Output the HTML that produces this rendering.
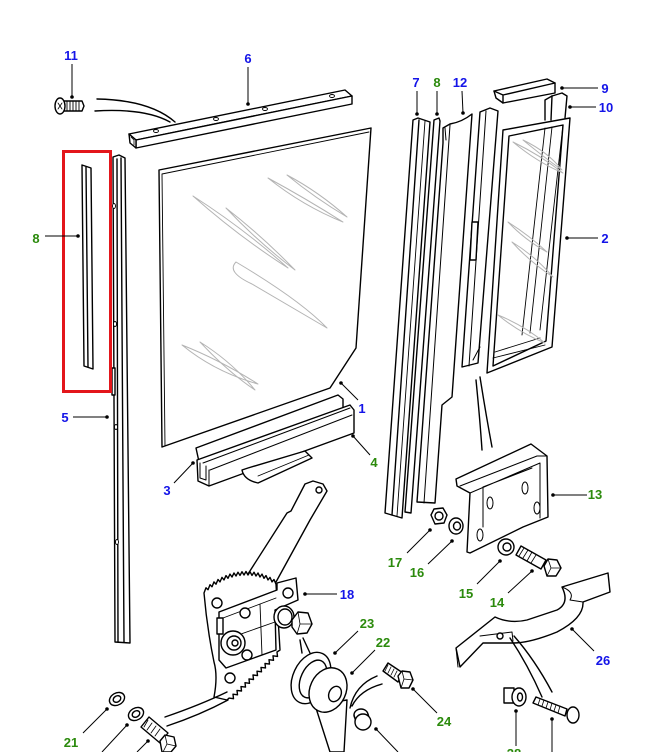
<!DOCTYPE html>
<html><head><meta charset="utf-8"><style>
html,body{margin:0;padding:0;background:#fff;}
svg{display:block;}
text{font-family:"Liberation Sans",Arial,sans-serif;font-weight:bold;font-size:13px;text-anchor:middle;}
.b{fill:#1414e8;} .g{fill:#2b8a0c;}
</style></head><body>
<svg width="663" height="752" viewBox="0 0 663 752" xmlns="http://www.w3.org/2000/svg">
<g fill="#fff" stroke="#000" stroke-width="1.4" stroke-linejoin="round" stroke-linecap="round">

<!-- Screw 11 -->
<polygon points="64,101 82,101 84,106 82,111 64,111"/>
<g fill="none" stroke-width="0.9"><line x1="67" y1="101" x2="67" y2="111"/><line x1="70" y1="101" x2="70" y2="111"/><line x1="73" y1="101" x2="73" y2="111"/><line x1="76" y1="101" x2="76" y2="111"/><line x1="79" y1="101" x2="79" y2="111"/></g>
<ellipse cx="60" cy="106" rx="5" ry="8"/>
<path d="M58,103 L62,109 M62,103 L58,109" fill="none" stroke-width="0.8"/>
<path d="M97,99 Q150,100 175,122 M95,111 Q145,108 170,122" fill="none"/>

<!-- Rail 6 -->
<polygon points="129,134 345,90 352,96 136,140"/>
<polygon points="136,140 352,96 352,104 136,148"/>
<polygon points="129,134 136,140 136,148 130,143"/>
<path d="M131,137 L134,140 L134,145" fill="none" stroke-width="0.8"/>
<g stroke-width="0.9"><ellipse cx="156" cy="131" rx="2.5" ry="1.5"/><ellipse cx="216" cy="119" rx="2.5" ry="1.5"/><ellipse cx="265" cy="109" rx="2.5" ry="1.5"/><ellipse cx="332" cy="96" rx="2.5" ry="1.5"/></g>

<!-- Channel 5 -->
<polygon points="113,157 119,155 125,158 130,643 115,642"/>
<line x1="117" y1="159" x2="118" y2="642" fill="none"/>
<line x1="121" y1="158" x2="124" y2="642" fill="none"/>
<rect x="112" y="368" width="3" height="27"/>
<g stroke-width="0.9"><ellipse cx="114" cy="206" rx="1.5" ry="2.5"/><ellipse cx="115" cy="324" rx="1.5" ry="2.5"/><ellipse cx="116" cy="427" rx="1.5" ry="2.5"/><ellipse cx="117" cy="542" rx="1.5" ry="2.5"/></g>

<!-- Part 8 strip in red box -->
<polygon points="82,165 91,168 93,369 84,366"/>
<line x1="86" y1="167" x2="88" y2="367" fill="none"/>

<!-- Glass 1 -->
<polygon points="159,170 371,128 356,348 330,388 162,447"/>
<path d="M162,174 L369,132 M162,174 L165,446" fill="none" stroke-width="0.9"/>
<g fill="none" stroke="#b4b4b4" stroke-width="1">
<path d="M193,196 Q238,236 288,268 Q243,228 193,196"/>
<path d="M226,208 Q258,242 295,270 Q262,236 226,208"/>
<path d="M268,178 Q303,206 343,222 Q305,198 268,178"/>
<path d="M287,175 Q315,198 347,217 Q319,192 287,175"/>
<path d="M236,262 Q226,272 252,284 L327,328 Q300,300 236,262"/>
<path d="M182,345 Q215,372 258,384 Q220,360 182,345"/>
<path d="M200,342 Q228,372 255,390 Q232,362 200,342"/>
</g>

<!-- Channel 3/4 -->
<polygon points="196,448 338,395 343,399 343,418 201,471"/>
<polygon points="197,460 350,405 354,410 354,433 209,486 198,481"/>
<path d="M203,463 L350,408 M210,470 L352,415 M209,486 L209,470 M200,463 L200,478 L206,480 L206,466" fill="none" stroke-width="1"/>

<!-- Lifter bracket -->
<path d="M248,468 L305,451 L312,458 L258,483 Q244,480 242,470 Z"/>
<line x1="258" y1="476" x2="309" y2="455" fill="none" stroke-width="0.9"/>

<!-- Regulator arm -->
<polygon points="305,484 313,481 323,484 327,491 310,520 276,582 248,574 287,513 291,511"/>
<circle cx="319" cy="490" r="3"/>

<!-- Sector gear plate -->
<path d="M204,593 L206,587.8 L208,589.7 L210,584.7 L212,586.8 L214,581.9 L216,584.2 L218,579.5 L220,581.9 L222,577.4 L224,579.9 L226,575.6 L228,578.3 L230,574.1 L232,577 L234,573 L236,576 L238,572.2 L240,575.4 L242,571.7 L244,575 L246,571.5 L248,575 L250,571.7 L252,575.4 L254,572.2 L256,576 L258,573 L260,577 L262,574.1 L264,578.3 L266,575.6 L268,579.9 L270,577.4 L272,581.9 L274,579.5 L276,584.2 L280,650 L277,652 L277.5,656.4 L273,655.8 L273.5,660.3 L269,659.7 L269.5,664.1 L265,663.5 L265.5,667.9 L261,667.4 L261.5,671.8 L257,671.2 L257.5,675.6 L253,675 L253.5,679.5 L249,678.9 L249.5,683.3 L245,682.7 L245.5,687.1 L241,686.6 L241.5,691 L237,690.4 L237.5,694.8 L233,694.2 L233.5,698.7 L229,698.1 L227,700 L214,697 Q218,676 214,662 Q207,628 204,593 Z"/>
<ellipse cx="217" cy="603" rx="5" ry="5"/>
<ellipse cx="230" cy="678" rx="5" ry="5"/>

<!-- Mounting plate 18 -->
<polygon points="219,612 277,590 277,583 296,578 298,600 275,610 276,650 226,668 219,660"/>
<path d="M223,618 L276,598 M224,640 L275,622 M260,604 L262,655" fill="none" stroke-width="0.9"/>
<rect x="217" y="618" width="6" height="16"/>
<circle cx="245" cy="613" r="5"/>
<circle cx="288" cy="593" r="5"/>
<circle cx="247" cy="655" r="5"/>
<circle cx="233" cy="643" r="12"/>
<circle cx="234" cy="643" r="7"/>
<circle cx="235" cy="643" r="3"/>
<ellipse cx="284" cy="617" rx="10" ry="11"/>
<ellipse cx="285" cy="617" rx="7" ry="8"/>
<polygon points="292,620 298,612 308,613 312,624 307,633 297,634 292,627"/>
<path d="M298,612 L300,624 L312,624 M300,624 L297,634" fill="none" stroke-width="0.8"/>
<path d="M300,640 L302,653 M303,638 L310,653" fill="none"/>

<!-- Washer 23 and handle 22 -->
<ellipse cx="311" cy="678" rx="18" ry="27" transform="rotate(25 311 678)"/>
<ellipse cx="313" cy="679" rx="12" ry="20" transform="rotate(25 313 679)"/>
<polygon points="315,705 347,700 344,752 330,752"/>
<ellipse cx="328" cy="690" rx="18" ry="23" transform="rotate(25 328 690)"/>
<ellipse cx="335" cy="694" rx="6" ry="8" transform="rotate(25 335 694)"/>
<path d="M350,708 Q355,685 377,676 M352,706 Q360,690 382,684" fill="none"/>

<!-- Bolt 24 -->
<polygon points="383,671 388,663 403,673 398,682"/>
<g fill="none" stroke-width="0.8"><line x1="388" y1="665" x2="385" y2="671"/><line x1="391" y1="667" x2="388" y2="673"/><line x1="394" y1="669" x2="391" y2="675"/><line x1="397" y1="671" x2="394" y2="677"/></g>
<polygon points="398,676 402,671 410,672 413,680 409,688 401,688"/>
<path d="M402,671 L404,679 L413,680 M404,679 L401,688" fill="none" stroke-width="0.8"/>

<!-- Cap -->
<ellipse cx="361" cy="715" rx="7" ry="6"/>
<path d="M354,715 L356,722 L370,721 L368,714" />
<ellipse cx="363" cy="722" rx="8" ry="8"/>

<!-- Part 21 washers & bolt -->
<ellipse cx="117" cy="699" rx="8" ry="6" transform="rotate(-30 117 699)"/>
<ellipse cx="117" cy="699" rx="4" ry="3" transform="rotate(-30 117 699)"/>
<ellipse cx="136" cy="714" rx="8" ry="6" transform="rotate(-30 136 714)"/>
<ellipse cx="136" cy="714" rx="4" ry="3" transform="rotate(-30 136 714)"/>
<polygon points="141,727 149,717 168,733 160,743"/>
<g fill="none" stroke-width="0.8"><line x1="148" y1="720" x2="144" y2="727"/><line x1="152" y1="723" x2="147" y2="730"/><line x1="156" y1="726" x2="151" y2="733"/><line x1="160" y1="729" x2="155" y2="736"/></g>
<polygon points="160,741 165,735 174,737 176,746 171,752 162,752"/>
<path d="M165,735 L167,744 L176,746 M167,744 L163,752" fill="none" stroke-width="0.8"/>
<path d="M165,717 Q200,705 227,692 M167,726 Q200,715 228,700" fill="none"/>

<!-- Strip 7 -->
<polygon points="413,120 418,118 430,122 402,518 385,513"/>
<line x1="419" y1="120" x2="392" y2="515" fill="none"/>
<line x1="425" y1="121" x2="397" y2="516" fill="none" stroke-width="0.9"/>
<!-- Strip 8 -->
<polygon points="434,120 439,118 440,121 411,513 405,512"/>
<!-- Strip 12 -->
<path d="M443,128 L450,124 Q462,122 472,114 L452,397 L442,405 L435,503 L417,502 L443,143 Z"/>
<path d="M450,125 L424,503 M446,140 L445,128" fill="none" stroke-width="1"/>
<!-- Rear channel -->
<polygon points="480,112 490,108 498,111 478,363 462,367"/>
<path d="M486,111 L469,366 M473,360 L480,347" fill="none" stroke-width="1"/>
<polygon points="472,222 478,222 476,260 470,260"/>

<!-- Part 10 -->
<path d="M545,120 L545,100 L552,96 L562,93 L567,96 L565,118" fill="none"/>
<path d="M552,96 L551,120" fill="none"/>
<!-- Frame 2 -->
<polygon points="503,130 570,118 552,347 487,373"/>
<polygon points="509,136 563,125 546,341 493,366" fill="none"/>
<path d="M545,128 L522,335 M552,127 L530,333 M563,125 L540,330" fill="none" stroke-width="0.9"/>
<path d="M495,352 L540,338 M493,358 L545,345" fill="none" stroke-width="0.9"/>
<g fill="none" stroke="#b4b4b4" stroke-width="1">
<path d="M513,142 Q537,162 563,173 Q540,155 513,142"/>
<path d="M523,140 Q545,158 562,170 Q548,152 523,140"/>
<path d="M508,222 Q525,240 547,252 Q530,236 508,222"/>
<path d="M512,242 Q530,262 553,277 Q535,256 512,242"/>
<path d="M498,315 Q520,333 545,343 Q525,326 498,315"/>
</g>

<!-- Part 9 -->
<polygon points="494,91 547,79 555,83 555,93 503,103 496,98"/>
<path d="M494,91 L503,95 L555,83 M503,95 L503,103" fill="none"/>

<!-- Curves bracket to frame -->
<path d="M476,380 Q480,420 482,450 M480,377 Q486,415 492,447" fill="none"/>

<!-- Bracket 13 -->
<path d="M456,479 L531,444 L547,456 L548,517 L523,527 L470,553 L467,552 L470,493 L457,486 Z"/>
<path d="M460,486 L537,456 L547,456 M470,493 L540,463 L540,518 M483,487 L532,468 M483,487 L483,527" fill="none" stroke-width="1"/>
<g stroke-width="1"><ellipse cx="490" cy="503" rx="3" ry="6"/><ellipse cx="525" cy="488" rx="3" ry="6"/><ellipse cx="537" cy="508" rx="3" ry="6"/><ellipse cx="480" cy="535" rx="3" ry="6"/></g>

<!-- Nut 17, washers 16 15, bolt 14 -->
<polygon points="431,515 434,509 443,508 447,515 444,523 435,524"/>
<circle cx="439" cy="516" r="4"/>
<ellipse cx="456" cy="526" rx="7" ry="8"/>
<ellipse cx="457" cy="526" rx="3.5" ry="4"/>
<ellipse cx="506" cy="547" rx="8" ry="8"/>
<ellipse cx="507" cy="547" rx="4" ry="4"/>
<polygon points="516,555 521,546 546,560 541,569"/>
<g fill="none" stroke-width="0.8"><line x1="524" y1="548" x2="519" y2="556"/><line x1="528" y1="550" x2="523" y2="558"/><line x1="532" y1="552" x2="527" y2="561"/><line x1="536" y1="555" x2="531" y2="563"/></g>
<polygon points="544,566 548,559 557,560 561,568 556,576 547,576"/>
<path d="M548,559 L551,568 L561,568 M551,568 L547,576" fill="none" stroke-width="0.8"/>

<!-- Part 26 -->
<path d="M456,648 L495,617 Q510,624 527,620 L557,610 Q570,603 562,587 L608,573 L610,592 L583,602 Q584,618 557,632 Q530,643 513,643 L483,643 L460,667 Z"/>
<path d="M456,648 L458,667 M480,636 L512,632 L513,641 M562,587 Q575,592 570,600 L583,602" fill="none" stroke-width="1"/>
<circle cx="500" cy="636" r="3"/>
<path d="M510,638 Q528,665 542,697 M514,636 Q535,660 552,692" fill="none"/>

<!-- Part 28 clip -->
<rect x="504" y="688" width="10" height="15"/>
<ellipse cx="519" cy="697" rx="7" ry="9"/>
<ellipse cx="520" cy="697" rx="2.5" ry="4"/>
<!-- screw -->
<polygon points="533,703 536,697 567,709 565,716"/>
<g fill="none" stroke-width="0.8"><line x1="540" y1="699" x2="538" y2="705"/><line x1="544" y1="700" x2="542" y2="706"/><line x1="548" y1="702" x2="546" y2="708"/><line x1="552" y1="703" x2="550" y2="710"/><line x1="556" y1="705" x2="554" y2="711"/><line x1="560" y1="706" x2="558" y2="713"/></g>
<ellipse cx="573" cy="715" rx="6" ry="8"/>
</g>

<!-- Red highlight -->
<rect x="63.5" y="151.5" width="47" height="240" fill="none" stroke="#e3161b" stroke-width="3"/>

<!-- Leader lines -->
<g stroke="#000" stroke-width="1" fill="none">
<line x1="72" y1="64" x2="72" y2="97"/>
<line x1="248" y1="67" x2="248" y2="104"/>
<line x1="45" y1="236" x2="78" y2="236"/>
<line x1="417" y1="91" x2="417" y2="114"/>
<line x1="437" y1="91" x2="437" y2="114"/>
<line x1="462" y1="91" x2="463" y2="113"/>
<line x1="562" y1="88" x2="598" y2="88"/>
<line x1="570" y1="107" x2="596" y2="107"/>
<line x1="567" y1="238" x2="598" y2="238"/>
<line x1="341" y1="383" x2="358" y2="400"/>
<line x1="353" y1="436" x2="370" y2="455"/>
<line x1="193" y1="463" x2="174" y2="483"/>
<line x1="73" y1="417" x2="107" y2="417"/>
<line x1="553" y1="495" x2="587" y2="495"/>
<line x1="430" y1="530" x2="407" y2="553"/>
<line x1="452" y1="541" x2="428" y2="564"/>
<line x1="500" y1="561" x2="477" y2="584"/>
<line x1="532" y1="571" x2="508" y2="593"/>
<line x1="305" y1="594" x2="337" y2="594"/>
<line x1="335" y1="653" x2="358" y2="631"/>
<line x1="352" y1="673" x2="375" y2="650"/>
<line x1="107" y1="709" x2="83" y2="733"/>
<line x1="127" y1="725" x2="102" y2="752"/>
<line x1="148" y1="741" x2="137" y2="752"/>
<line x1="413" y1="689" x2="437" y2="713"/>
<line x1="376" y1="729" x2="398" y2="752"/>
<line x1="516" y1="711" x2="516" y2="746"/>
<line x1="552" y1="719" x2="552" y2="752"/>
<line x1="572" y1="629" x2="594" y2="651"/>
</g>
<g fill="#000">
<circle cx="72" cy="97" r="1.8"/><circle cx="248" cy="104" r="1.8"/><circle cx="78" cy="236" r="1.8"/>
<circle cx="417" cy="114" r="1.8"/><circle cx="437" cy="114" r="1.8"/><circle cx="463" cy="113" r="1.8"/>
<circle cx="562" cy="88" r="1.8"/><circle cx="570" cy="107" r="1.8"/><circle cx="567" cy="238" r="1.8"/>
<circle cx="341" cy="383" r="1.8"/><circle cx="353" cy="436" r="1.8"/><circle cx="193" cy="463" r="1.8"/>
<circle cx="107" cy="417" r="1.8"/><circle cx="553" cy="495" r="1.8"/><circle cx="430" cy="530" r="1.8"/>
<circle cx="452" cy="541" r="1.8"/><circle cx="500" cy="561" r="1.8"/><circle cx="532" cy="571" r="1.8"/>
<circle cx="305" cy="594" r="1.8"/><circle cx="335" cy="653" r="1.8"/><circle cx="352" cy="673" r="1.8"/>
<circle cx="107" cy="709" r="1.8"/><circle cx="127" cy="725" r="1.8"/><circle cx="148" cy="741" r="1.8"/>
<circle cx="413" cy="689" r="1.8"/><circle cx="376" cy="729" r="1.8"/><circle cx="516" cy="711" r="1.8"/>
<circle cx="552" cy="719" r="1.8"/><circle cx="572" cy="629" r="1.8"/>
</g>

<!-- Labels -->
<text class="b" x="71" y="60">11</text>
<text class="b" x="248" y="63">6</text>
<text class="b" x="416" y="87">7</text>
<text class="g" x="437" y="87">8</text>
<text class="b" x="460" y="87">12</text>
<text class="b" x="605" y="93">9</text>
<text class="b" x="606" y="112">10</text>
<text class="g" x="36" y="243">8</text>
<text class="b" x="605" y="243">2</text>
<text class="b" x="65" y="422">5</text>
<text class="b" x="362" y="413">1</text>
<text class="g" x="374" y="467">4</text>
<text class="b" x="167" y="495">3</text>
<text class="g" x="595" y="499">13</text>
<text class="g" x="395" y="567">17</text>
<text class="g" x="417" y="577">16</text>
<text class="b" x="347" y="599">18</text>
<text class="g" x="466" y="598">15</text>
<text class="g" x="497" y="607">14</text>
<text class="g" x="367" y="628">23</text>
<text class="g" x="383" y="647">22</text>
<text class="b" x="603" y="665">26</text>
<text class="g" x="444" y="726">24</text>
<text class="g" x="71" y="747">21</text>
<text class="g" x="514" y="758">28</text>
</svg>
</body></html>
